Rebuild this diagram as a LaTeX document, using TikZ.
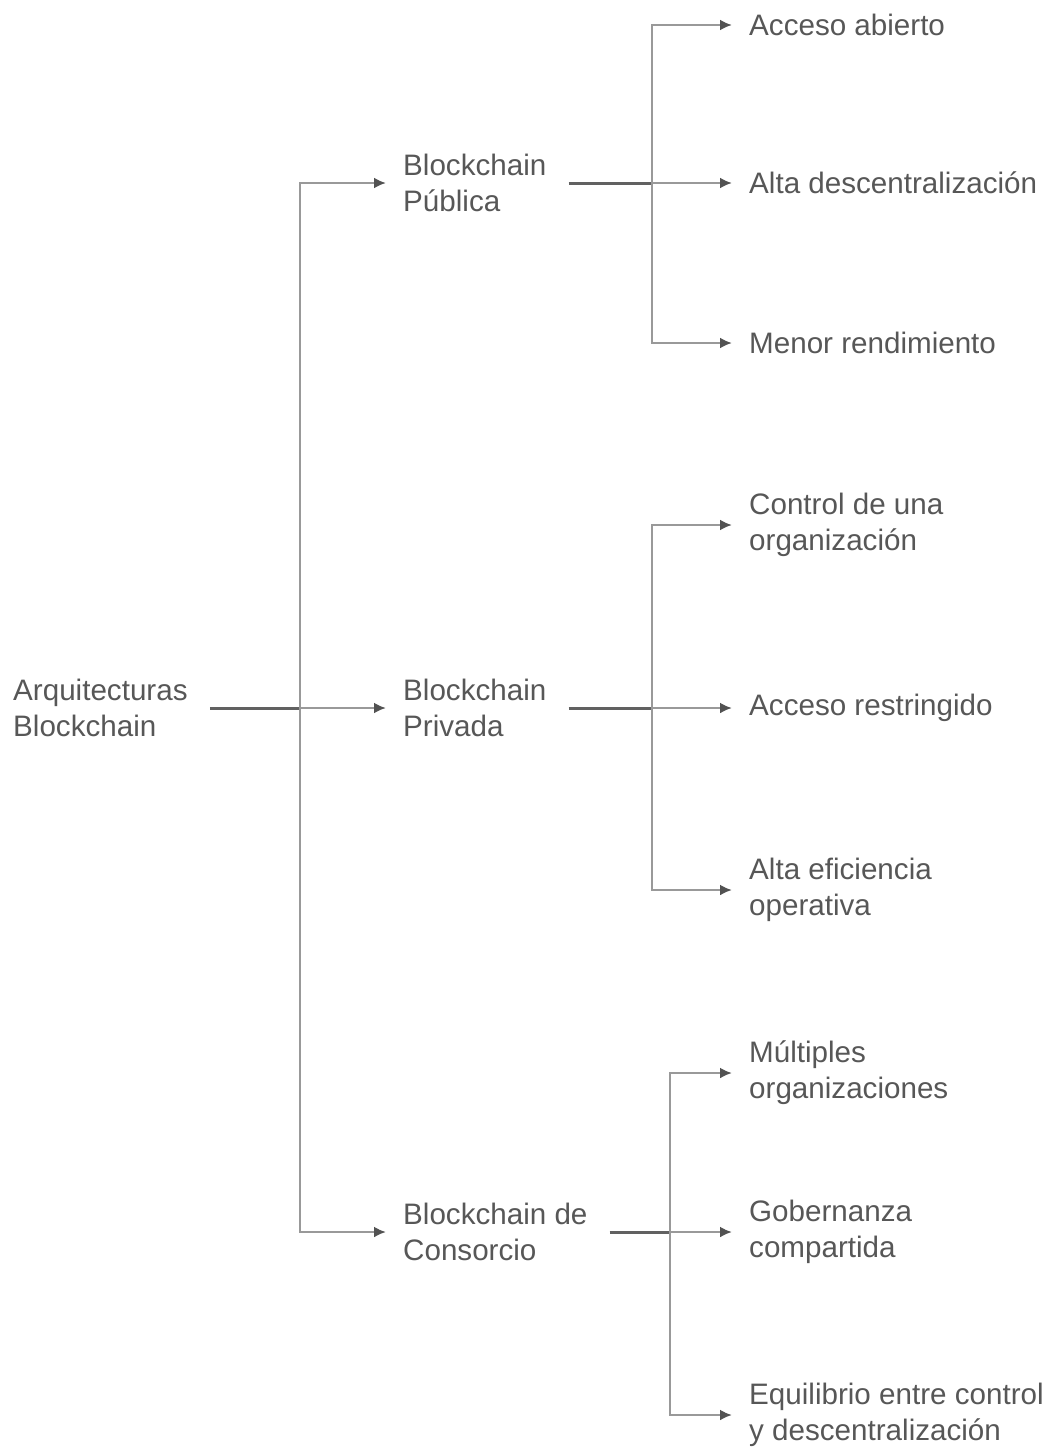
\documentclass[tikz,border=0pt]{standalone}
\usepackage{fontspec}
\setmainfont{Liberation Sans}
\usetikzlibrary{arrows.meta}

\begin{document}
\begin{tikzpicture}[
  x=1pt,y=-1pt,
  item/.style={anchor=west,align=left,inner xsep=0pt,inner ysep=0pt,text=black!66,font=\fontsize{29.6}{36}\selectfont},
  trunk/.style={draw=black!62,line width=3pt,shorten <=22pt},
  branch/.style={-{Latex[length=12pt,width=11pt,color=black!68]},draw=black!40,line width=2.6pt,shorten >=17pt},
]
\useasboundingbox (0,0) rectangle (1051,1451);
% root and first split
\node[item] (root) at (13,708) {Arquitecturas\\Blockchain};
\node[item] (pub) at (403,183) {Blockchain\\Pública};
\node[item] (priv) at (403,708) {Blockchain\\Privada};
\node[item] (cons) at (403,1232) {Blockchain de\\Consorcio};
\coordinate (j0) at (300,708);
\draw[trunk] (root.east)--(j0);
\foreach \n in {pub,priv,cons}{\draw[branch] (j0) |- (\n.west);}
% leaves
\node[item] (abierto) at (749,25) {Acceso abierto};
\node[item] (descent) at (749,183) {Alta descentralización};
\node[item] (rend) at (749,343) {Menor rendimiento};
\node[item] (control) at (749,525) {Control de una\\organización};
\node[item] (restr) at (749,708) {Acceso restringido};
\node[item] (efic) at (749,890) {Alta eficiencia\\operativa};
\node[item] (multi) at (749,1073) {Múltiples\\organizaciones};
\node[item] (gob) at (749,1232) {Gobernanza\\compartida};
\node[item] (equil) at (749,1415) {Equilibrio entre control\\y descentralización};
\coordinate (j1) at (652,183);
\coordinate (j2) at (652,708);
\coordinate (j3) at (670,1232);
\draw[trunk] (pub.east)--(j1);
\draw[trunk] (priv.east)--(j2);
\draw[trunk] (cons.east)--(j3);
\foreach \n in {abierto,descent,rend}{\draw[branch] (j1) |- (\n.west);}
\foreach \n in {control,restr,efic}{\draw[branch] (j2) |- (\n.west);}
\foreach \n in {multi,gob,equil}{\draw[branch] (j3) |- (\n.west);}
\end{tikzpicture}
\end{document}
